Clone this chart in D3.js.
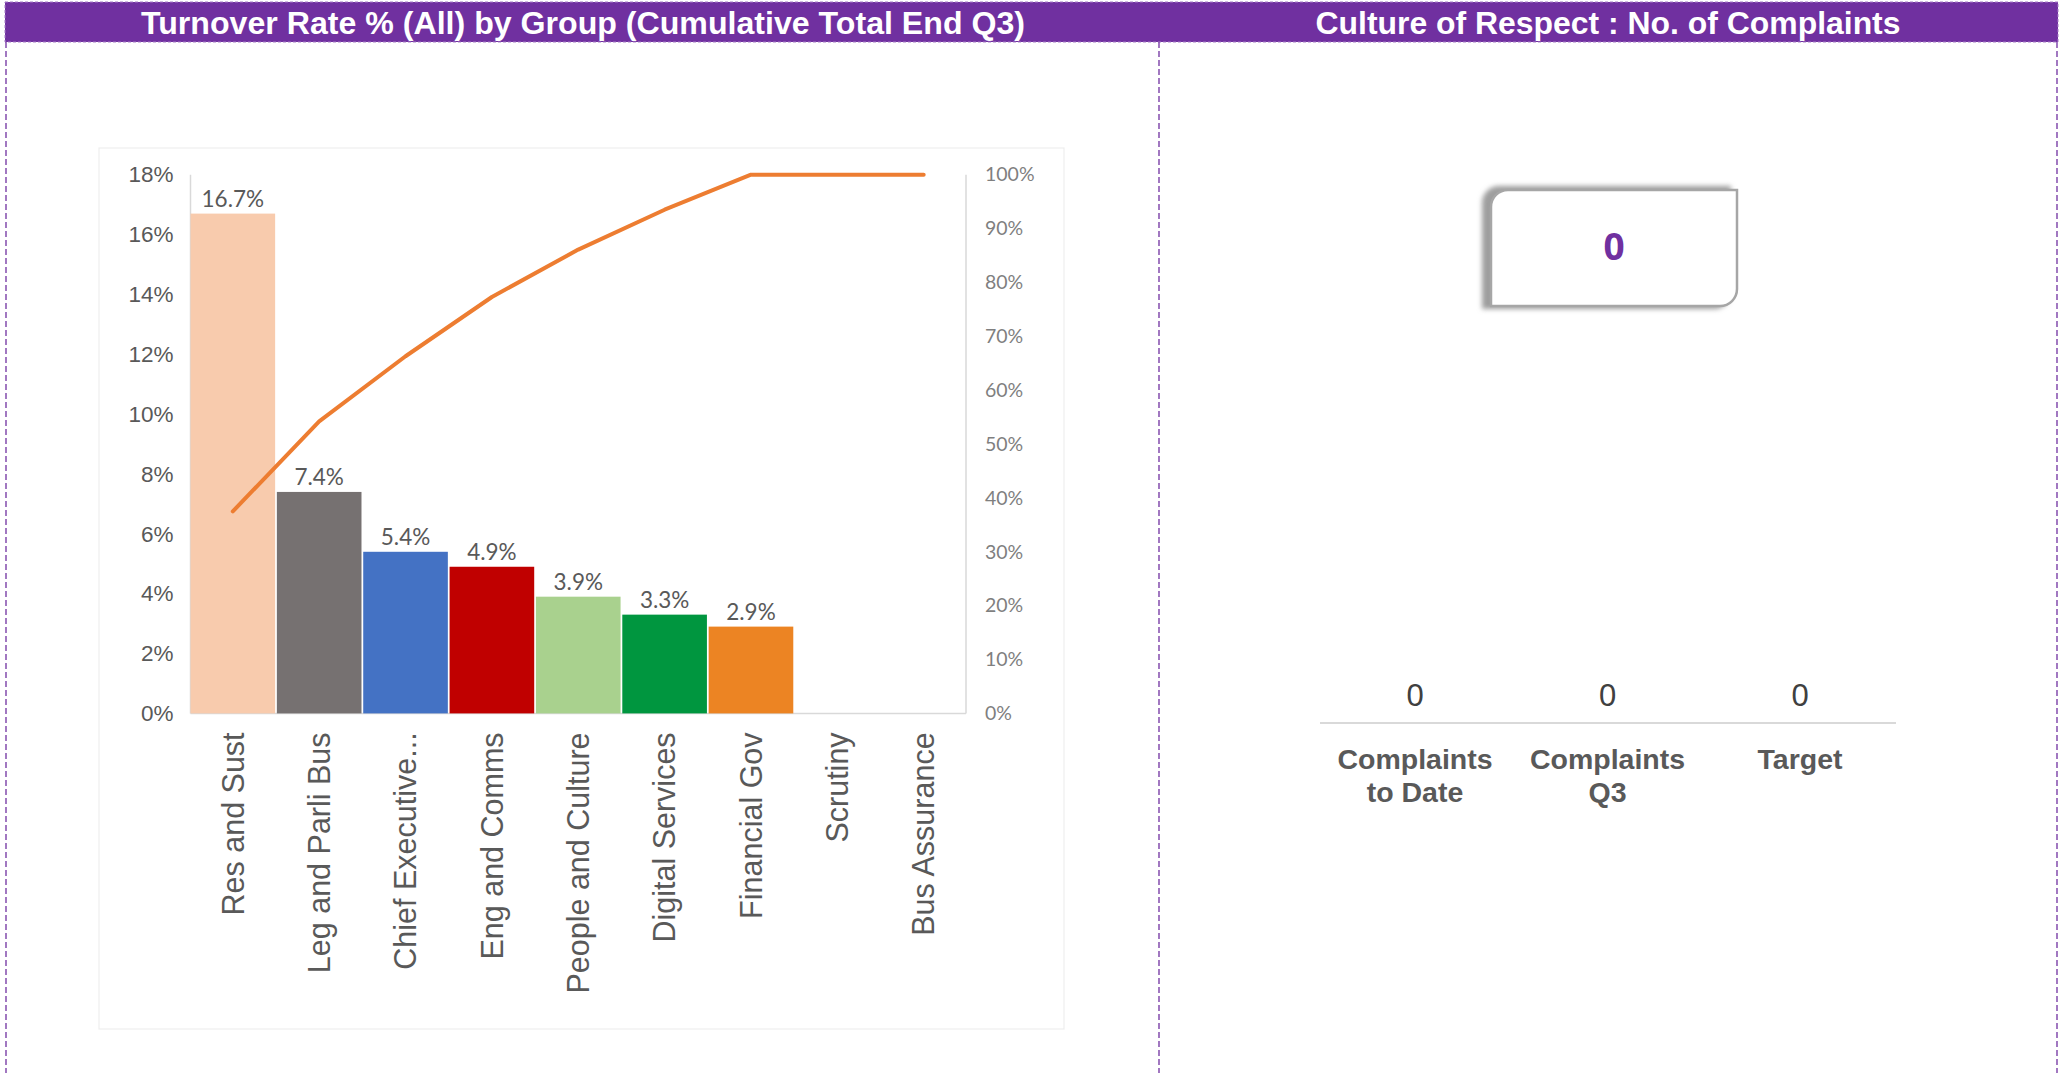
<!DOCTYPE html>
<html>
<head>
<meta charset="utf-8">
<script src="https://cdn.jsdelivr.net/npm/d3@7"></script>
<style>
  html, body { margin: 0; padding: 0; background: #ffffff; }
  svg { display: block; }
</style>
</head>
<body>
<svg id="board" width="2060" height="1073"></svg>
<script>
// Turnover by group (cumulative to end of Q3)
const categories = ["Res and Sust", "Leg and Parli Bus", "Chief Executive...", "Eng and Comms",
                    "People and Culture", "Digital Services", "Financial Gov", "Scrutiny", "Bus Assurance"];
const turnoverRates = [16.7, 7.4, 5.4, 4.9, 3.9, 3.3, 2.9, 0, 0];
const cumulativeShare = [37.5, 54.2, 66.3, 77.3, 86.1, 93.5, 100, 100, 100];
const barColors = ["#F8CBAD", "#767171", "#4472C4", "#C00000", "#A9D18E", "#00963F", "#EC8423", "#BFBFBF", "#BFBFBF"];
const rateTicks = [0, 2, 4, 6, 8, 10, 12, 14, 16, 18];
const shareTicks = [0, 10, 20, 30, 40, 50, 60, 70, 80, 90, 100];

// Culture of Respect complaints
const complaintsTotal = 0;
const statLabels = [["Complaints", "to Date"], ["Complaints", "Q3"], ["Target"]];
const statValues = [0, 0, 0];

const PURPLE = "#7030A0";
const svg = d3.select("#board");

// ---------- panel frame ----------
svg.append("rect")
  .attr("x", 5).attr("y", 2).attr("width", 2053).attr("height", 40)
  .attr("fill", PURPLE)
  .attr("stroke", "#A67CC7").attr("stroke-width", 1).attr("stroke-dasharray", "3,2");

[6, 1159, 2057].forEach(x => {
  svg.append("line")
    .attr("x1", x).attr("x2", x).attr("y1", 42).attr("y2", 1073)
    .attr("stroke", PURPLE).attr("stroke-width", 1.3).attr("stroke-dasharray", "6,3");
});

svg.append("text")
  .attr("x", 583).attr("y", 34)
  .attr("text-anchor", "middle")
  .attr("font-family", "'Liberation Sans', Arial, sans-serif")
  .attr("font-weight", "bold").attr("font-size", 31)
  .attr("textLength", 884).attr("lengthAdjust", "spacingAndGlyphs")
  .attr("fill", "#ffffff")
  .text("Turnover Rate % (All) by Group (Cumulative Total End Q3)");

svg.append("text")
  .attr("x", 1608).attr("y", 34)
  .attr("text-anchor", "middle")
  .attr("font-family", "'Liberation Sans', Arial, sans-serif")
  .attr("font-weight", "bold").attr("font-size", 31)
  .attr("textLength", 585).attr("lengthAdjust", "spacingAndGlyphs")
  .attr("fill", "#ffffff")
  .text("Culture of Respect : No. of Complaints");

// ---------- Pareto chart ----------
svg.append("rect")
  .attr("x", 99).attr("y", 148).attr("width", 965).attr("height", 881)
  .attr("fill", "#ffffff").attr("stroke", "#EEEEEE").attr("stroke-width", 1.2);

const plot = { left: 190.5, right: 966, top: 174.7, bottom: 713.4 };

const x = d3.scaleBand()
  .domain(categories)
  .range([plot.left, plot.right])
  .paddingInner(0.02).paddingOuter(0);

const yRate = d3.scaleLinear().domain([0, 18]).range([plot.bottom, plot.top]);
const yShare = d3.scaleLinear().domain([0, 100]).range([plot.bottom, plot.top]);

const g = svg.append("g");

// axis frame lines
g.append("line").attr("x1", plot.left).attr("x2", plot.left)
  .attr("y1", plot.top).attr("y2", plot.bottom)
  .attr("stroke", "#D9D9D9").attr("stroke-width", 1.5);
g.append("line").attr("x1", plot.right).attr("x2", plot.right)
  .attr("y1", plot.top).attr("y2", plot.bottom)
  .attr("stroke", "#D9D9D9").attr("stroke-width", 1.5);
g.append("line").attr("x1", plot.left).attr("x2", plot.right)
  .attr("y1", plot.bottom).attr("y2", plot.bottom)
  .attr("stroke", "#D9D9D9").attr("stroke-width", 1.5);

// left axis: turnover rate
const leftAxis = d3.axisLeft(yRate).tickValues(rateTicks)
  .tickFormat(d => d + "%").tickSize(0).tickPadding(17);
const la = g.append("g").attr("transform", `translate(${plot.left},0)`).call(leftAxis);
la.select(".domain").remove();
la.selectAll("text")
  .attr("font-family", "'Liberation Sans', Arial, sans-serif")
  .attr("font-size", 22.5).attr("fill", "#595959");

// right axis: cumulative share
const rightAxis = d3.axisRight(yShare).tickValues(shareTicks)
  .tickFormat(d => d + "%").tickSize(0).tickPadding(19);
const ra = g.append("g").attr("transform", `translate(${plot.right},0)`).call(rightAxis);
ra.select(".domain").remove();
ra.selectAll("text")
  .attr("font-family", "Lato, 'Open Sans', sans-serif")
  .attr("font-size", 19.5).attr("fill", "#7F7F7F");

// bars
g.selectAll("rect.bar")
  .data(categories.map((c, i) => ({ c, v: turnoverRates[i], col: barColors[i] })))
  .join("rect")
  .attr("class", "bar")
  .attr("x", d => x(d.c))
  .attr("width", x.bandwidth())
  .attr("y", d => yRate(d.v))
  .attr("height", d => plot.bottom - yRate(d.v))
  .attr("fill", d => d.col);

// value labels
g.selectAll("text.val")
  .data(categories.map((c, i) => ({ c, v: turnoverRates[i] })).filter(d => d.v > 0))
  .join("text")
  .attr("class", "val")
  .attr("x", d => x(d.c) + x.bandwidth() / 2)
  .attr("y", d => yRate(d.v) - 7)
  .attr("text-anchor", "middle")
  .attr("font-family", "Lato, 'Open Sans', sans-serif")
  .attr("font-size", 22.5).attr("fill", "#595959")
  .text(d => d.v.toFixed(1) + "%");

// cumulative line
const line = d3.line()
  .x((d, i) => x(categories[i]) + x.bandwidth() / 2)
  .y(d => yShare(d))
  .curve(d3.curveLinear);
g.append("path")
  .datum(cumulativeShare)
  .attr("d", line)
  .attr("fill", "none")
  .attr("stroke", "#ED7D31").attr("stroke-width", 4)
  .attr("stroke-linejoin", "round").attr("stroke-linecap", "round");

// category labels (rotated)
const bottomAxis = d3.axisBottom(x).tickSize(0).tickPadding(0);
const ba = g.append("g").attr("transform", `translate(0,${plot.bottom})`).call(bottomAxis);
ba.select(".domain").remove();
ba.selectAll("text")
  .attr("font-family", "'Liberation Sans', Arial, sans-serif")
  .attr("font-size", 30.5).attr("fill", "#595959")
  .attr("text-anchor", "end")
  .attr("transform", "rotate(-90)")
  .attr("x", -19).attr("y", 0).attr("dy", "0.35em");

// ---------- Complaints KPI ----------
const box = { x0: 1491, y0: 190, x1: 1737, y1: 306, r: 17 };
function kpiPath(b) {
  return `M${b.x0 + b.r},${b.y0} H${b.x1} V${b.y1 - b.r} A${b.r},${b.r} 0 0 1 ${b.x1 - b.r},${b.y1}` +
         ` H${b.x0} V${b.y0 + b.r} A${b.r},${b.r} 0 0 1 ${b.x0 + b.r},${b.y0} Z`;
}
const defs = svg.append("defs");
defs.append("filter").attr("id", "soft").attr("x", "-20%").attr("y", "-20%")
  .attr("width", "140%").attr("height", "140%")
  .append("feGaussianBlur").attr("stdDeviation", 2.5);

svg.append("path")
  .attr("d", kpiPath({ x0: box.x0 - 9, y0: box.y0 - 4, x1: box.x1 - 6, y1: box.y1 + 3, r: box.r }))
  .attr("fill", "#9E9E9E").attr("filter", "url(#soft)");
svg.append("path")
  .attr("d", kpiPath(box))
  .attr("fill", "#ffffff").attr("stroke", "#A6A6A6").attr("stroke-width", 2.5);
svg.append("text")
  .attr("x", (box.x0 + box.x1) / 2).attr("y", 260)
  .attr("text-anchor", "middle")
  .attr("font-family", "'Open Sans', 'Liberation Sans', sans-serif")
  .attr("font-weight", "bold").attr("font-size", 37).attr("fill", PURPLE)
  .text(complaintsTotal);

const statX = d3.scalePoint().domain(d3.range(statValues.length)).range([1415, 1800]);

svg.append("line")
  .attr("x1", 1320).attr("x2", 1896).attr("y1", 723).attr("y2", 723)
  .attr("stroke", "#D9D9D9").attr("stroke-width", 2);

svg.selectAll("text.statv")
  .data(statValues)
  .join("text")
  .attr("class", "statv")
  .attr("x", (d, i) => statX(i)).attr("y", 706)
  .attr("text-anchor", "middle")
  .attr("font-family", "'Liberation Sans', Arial, sans-serif")
  .attr("font-size", 31).attr("fill", "#404040")
  .text(d => d);

const statGroups = svg.selectAll("text.statl")
  .data(statLabels)
  .join("text")
  .attr("class", "statl")
  .attr("x", (d, i) => statX(i)).attr("y", 769)
  .attr("text-anchor", "middle")
  .attr("font-family", "'Liberation Sans', Arial, sans-serif")
  .attr("font-weight", "bold").attr("font-size", 28.5).attr("fill", "#595959");
statGroups.selectAll("tspan")
  .data((d, i) => d.map(t => ({ t, i })))
  .join("tspan")
  .attr("x", d => statX(d.i))
  .attr("dy", (d, j) => j === 0 ? 0 : 33)
  .text(d => d.t);
</script>
</body>
</html>
